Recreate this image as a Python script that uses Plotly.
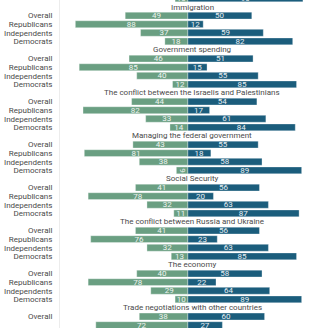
import plotly.graph_objects as go

# ---- data ----
segments = ["Overall", "Republicans", "Independents", "Democrats"]

group_titles = ["", "Immigration", "Government spending",
                "The conflict between the Israelis and Palestinians",
                "Managing the federal government", "Social Security",
                "The conflict between Russia and Ukraine", "The economy",
                "Trade negotiations with other countries"]

# segments shown for each group (first and last groups are cut by the frame)
group_segments = [["Democrats"], segments, segments, segments, segments,
                  segments, segments, segments, ["Overall", "Republicans"]]

green_values = [[10], [49, 88, 37, 18], [46, 85, 40, 12], [44, 82, 33, 14],
                [43, 81, 38, 9], [41, 78, 32, 11], [41, 76, 32, 13],
                [40, 78, 29, 10], [38, 72]]
blue_values = [[90], [50, 12, 59, 82], [51, 15, 55, 85], [54, 17, 61, 84],
               [55, 18, 58, 89], [56, 20, 63, 87], [56, 23, 63, 85],
               [58, 22, 64, 89], [60, 27]]

GREEN = "#6a9f82"
BLUE = "#1b5d7c"
LABEL = "#4a4a4a"

# ---- build rows ----
ys, labels, gv, bv = [], [], [], []
title_pos = []
base = -4
for title, segs, g, b in zip(group_titles, group_segments, green_values, blue_values):
    title_pos.append((base, title))
    for s, gval, bval in zip(segs, g, b):
        ys.append(base + 1 + segments.index(s))
        labels.append(s)
        gv.append(gval)
        bv.append(bval)
    base += 5

fig = go.Figure()
fig.add_trace(go.Bar(
    y=ys, x=[-v for v in gv], orientation="h", marker_color=GREEN,
    marker_line=dict(color="rgba(255,255,255,0.55)", width=0.6),
    width=0.8, text=[str(v) for v in gv], textposition="inside",
    insidetextanchor="middle", textfont=dict(color="#eef3f0", size=8, family="Roboto"),
    showlegend=False))
fig.add_trace(go.Bar(
    y=ys, x=bv, orientation="h", marker_color=BLUE,
    marker_line=dict(color="rgba(255,255,255,0.55)", width=0.6),
    width=0.8, text=[str(v) for v in bv], textposition="inside",
    insidetextanchor="middle", textfont=dict(color="#e8eef2", size=8, family="Roboto"),
    showlegend=False))

for pos, title in title_pos:
    if title:
        fig.add_annotation(x=3.5, y=pos, xref="x", yref="y", text=title,
                           showarrow=False, font=dict(size=8, color=LABEL, family="Roboto"),
                           xanchor="center", yanchor="middle")

fig.update_layout(
    width=328, height=328, margin=dict(l=60, r=0, t=0, b=0),
    paper_bgcolor="white", plot_bgcolor="white", barmode="overlay",
    uniformtext=dict(minsize=8, mode="show"),
    font=dict(family="Roboto", size=8, color=LABEL),
)
fig.update_xaxes(range=[-100, 109.6], visible=False, showgrid=False, zeroline=False)
fig.update_yaxes(range=[38.33, 0.186], tickvals=ys, ticktext=labels,
                 showgrid=False, zeroline=False, ticks="", ticklabelstandoff=5,
                 showline=True, mirror=True, linecolor="#ececec", linewidth=1,
                 tickfont=dict(size=8, color=LABEL, family="Roboto"))

fig.write_html("out.html")
